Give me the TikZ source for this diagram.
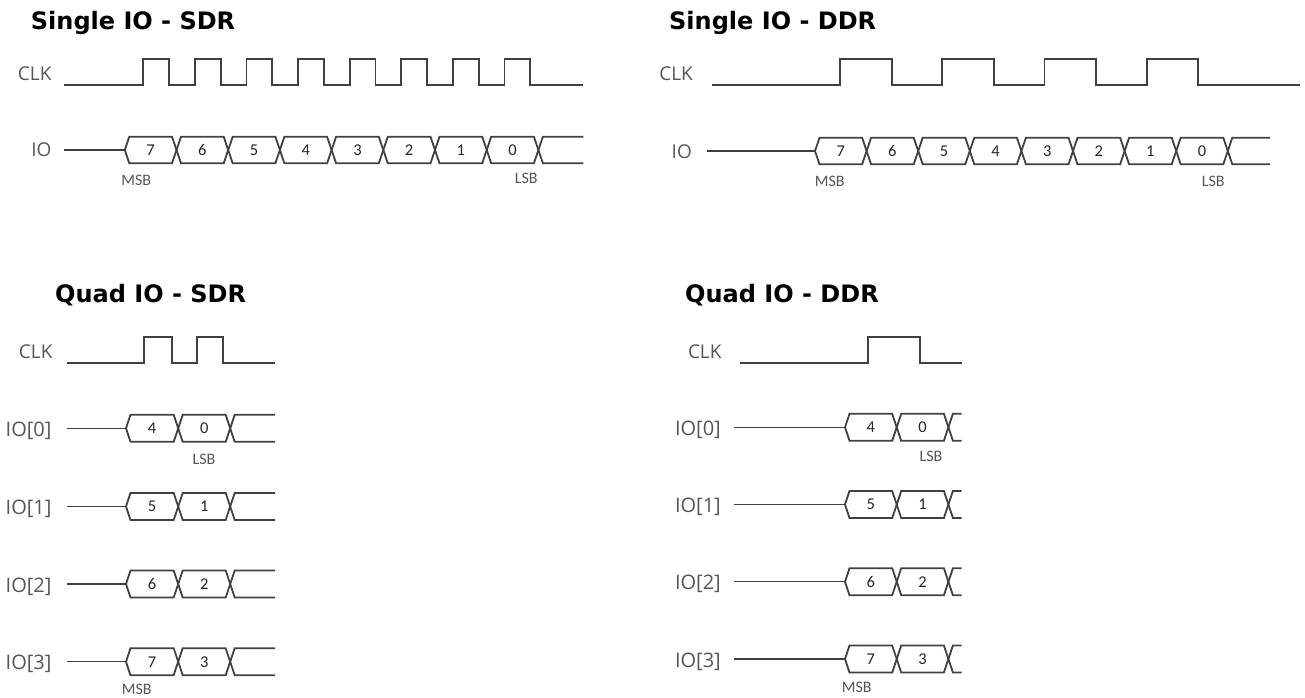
\documentclass[tikz,border=0pt]{standalone}
\usepackage{fontspec}
\setmainfont{Open Sans}
\newfontfamily\titlefont{DejaVu Sans}
\newfontfamily\numfont{Carlito}
\definecolor{wavegray}{HTML}{404040}
\definecolor{labelgray}{HTML}{555555}
\definecolor{bitgray}{HTML}{262626}

\begin{document}
\begin{tikzpicture}[x=1pt,y=-1pt,
  wave/.style={line width=1.8pt,draw=wavegray},
  lead/.style={line width=1.4pt,draw=wavegray},
  title/.style={anchor=base west,inner sep=0pt,font=\titlefont\bfseries\fontsize{24}{24}\selectfont},
  sig/.style={anchor=base east,inner sep=0pt,text=labelgray,font=\fontsize{19}{19}\selectfont},
  bus/.style={anchor=base east,inner sep=0pt,text=labelgray,font=\fontsize{20}{20}\selectfont},
  bit/.style={inner sep=0pt,text=bitgray,font=\numfont\fontsize{16.5}{16.5}\selectfont},
  tag/.style={inner sep=0pt,text=labelgray,font=\numfont\fontsize{16}{16}\selectfont}]
  \useasboundingbox (0,0) rectangle (1305,697);

  % titles
  \node[title] (tSS) at (30.7,29.3) {Single IO - SDR};
  \node[title] (tSD) at (669,29.3) {Single IO - DDR};
  \node[title] (tQS) at (55,302) {Quad IO - SDR};
  \node[title] (tQD) at (685,302) {Quad IO - DDR};

  % Single IO - SDR
  \node[sig] (clkSS) at (51.7,80) {CLK};
  \node[sig] (ioSS) at (51.7,156.5) {IO};
  \draw[wave] (64,85) \foreach \k in {0,...,7} { -- ({143.3+51.6*\k},85) -- ++(0,-26) -- ++(25.8,0) -- ++(0,26) } -- (583.3,85);
  \coordinate (ioSSa) at (64,150);
  \coordinate (ioSSb) at (124.8,150);
  \draw[lead] (ioSSa) -- (ioSSb);
  \foreach \d [count=\i from 0] in {7,6,5,4,3,2,1,0} {
    \pgfmathsetmacro\a{124.8+51.7*\i}
    \pgfmathsetmacro\b{\a+51.7}
    \draw[wave] (\a,150) -- (\a+4.5,136.7) -- (\b-4.5,136.7) -- (\b,150) -- (\b-4.5,163.3) -- (\a+4.5,163.3) -- cycle;
    \node[bit] (bSS\d) at ({(\a+\b)/2},150) {\d};
  }
  \draw[wave] (583.3,136.7) -- (542.9,136.7) -- (538.4,150) -- (542.9,163.3) -- (583.3,163.3);
  \node[tag] (msbSS) at (136.2,180) {MSB};
  \node[tag] (lsbSS) at (526.2,178.3) {LSB};

  % Single IO - DDR
  \node[sig] (clkSD) at (693,80) {CLK};
  \node[sig] (ioSD) at (692,158) {IO};
  \draw[wave] (711.7,85) \foreach \k in {0,...,3} { -- ({840+102.2*\k},85) -- ++(0,-26) -- ++(51.7,0) -- ++(0,26) } -- (1300,85);
  \coordinate (ioSDa) at (707.3,151);
  \coordinate (ioSDb) at (815,151);
  \draw[lead] (ioSDa) -- (ioSDb);
  \foreach \d [count=\i from 0] in {7,6,5,4,3,2,1,0} {
    \pgfmathsetmacro\a{815+51.6*\i}
    \pgfmathsetmacro\b{\a+51.6}
    \draw[wave] (\a,151) -- (\a+4.5,137.7) -- (\b-4.5,137.7) -- (\b,151) -- (\b-4.5,164.3) -- (\a+4.5,164.3) -- cycle;
    \node[bit] (bSD\d) at ({(\a+\b)/2},151) {\d};
  }
  \draw[wave] (1270,137.7) -- (1232.3,137.7) -- (1227.8,151) -- (1232.3,164.3) -- (1270,164.3);
  \node[tag] (msbSD) at (829.7,181.7) {MSB};
  \node[tag] (lsbSD) at (1213.3,181) {LSB};

  % Quad IO - SDR
  \node[sig] (clkQS) at (52.7,358.3) {CLK};
  \draw[wave] (66.7,362.7) -- (144.3,362.7) -- (144.3,336.7) -- (171.7,336.7) -- (171.7,362.7)
    -- (196.7,362.7) -- (196.7,336.7) -- (223.3,336.7) -- (223.3,362.7) -- (275,362.7);
  \foreach \r/\y/\p/\q in {0/428.3/4/0, 1/506.5/5/1, 2/584/6/2, 3/661.7/7/3} {
    \node[bus] (ioQS\r) at (51.7,\y+8) {IO[\r]};
    \coordinate (ioQS\r a) at (66.7,\y);
    \coordinate (ioQS\r b) at (126,\y);
    \draw[lead] (ioQS\r a) -- (ioQS\r b);
    \draw[wave] (126,\y) -- (130.5,\y-13.5) -- (173.7,\y-13.5) -- (178.2,\y) -- (173.7,\y+13.5) -- (130.5,\y+13.5) -- cycle;
    \draw[wave] (178.2,\y) -- (182.7,\y-13.5) -- (225.7,\y-13.5) -- (230.2,\y) -- (225.7,\y+13.5) -- (182.7,\y+13.5) -- cycle;
    \draw[wave] (275,\y-13.5) -- (234.7,\y-13.5) -- (230.2,\y) -- (234.7,\y+13.5) -- (275,\y+13.5);
    \node[bit] (bQS\p) at (152.1,\y) {\p};
    \node[bit] (bQS\q) at (204.2,\y) {\q};
  }
  \node[tag] (lsbQS) at (204,459) {LSB};
  \node[tag] (msbQS) at (136.7,689.5) {MSB};

  % Quad IO - DDR
  \node[sig] (clkQD) at (721.7,358.3) {CLK};
  \draw[wave] (740,362.7) -- (868.3,362.7) -- (868.3,336.7) -- (920,336.7) -- (920,362.7) -- (961.7,362.7);
  \foreach \r/\y/\p/\q in {0/427.3/4/0, 1/504.5/5/1, 2/581.7/6/2, 3/659/7/3} {
    \node[bus] (ioQD\r) at (721,\y+8) {IO[\r]};
    \coordinate (ioQD\r a) at (734,\y);
    \coordinate (ioQD\r b) at (845,\y);
    \draw[lead] (ioQD\r a) -- (ioQD\r b);
    \draw[wave] (845,\y) -- (849.5,\y-13.5) -- (892.2,\y-13.5) -- (896.7,\y) -- (892.2,\y+13.5) -- (849.5,\y+13.5) -- cycle;
    \draw[wave] (896.7,\y) -- (901.2,\y-13.5) -- (943.9,\y-13.5) -- (948.4,\y) -- (943.9,\y+13.5) -- (901.2,\y+13.5) -- cycle;
    \draw[wave] (961.7,\y-13.5) -- (952.9,\y-13.5) -- (948.4,\y) -- (952.9,\y+13.5) -- (961.7,\y+13.5);
    \node[bit] (bQD\p) at (870.9,\y) {\p};
    \node[bit] (bQD\q) at (922.6,\y) {\q};
  }
  \node[tag] (lsbQD) at (931,456.5) {LSB};
  \node[tag] (msbQD) at (856.7,687.5) {MSB};
\end{tikzpicture}
\end{document}
